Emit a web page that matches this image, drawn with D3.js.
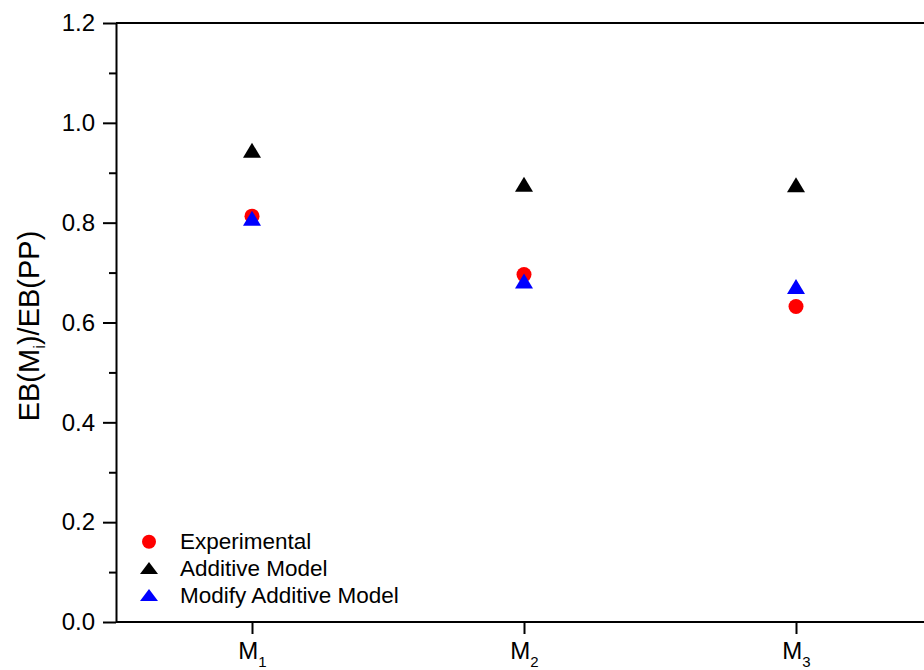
<!DOCTYPE html>
<html>
<head>
<meta charset="utf-8">
<script src="https://cdn.jsdelivr.net/npm/d3@7"></script>
<style>
  html, body { margin: 0; padding: 0; background: #fff; overflow: hidden; }
  svg { display: block; font-family: "Liberation Sans", Arial, sans-serif; }
</style>
</head>
<body>
<svg id="chart" width="924" height="670"></svg>
<script>
// ---- data ----
const categories = ["M1", "M2", "M3"];
const catBase = ["M", "M", "M"];
const catSub = ["1", "2", "3"];
const experimental = [0.813, 0.696, 0.632];
const additiveModel = [0.945, 0.877, 0.876];
const modifyAdditiveModel = [0.809, 0.683, 0.672];
const yTicks = [0.0, 0.2, 0.4, 0.6, 0.8, 1.0, 1.2];
const yMinorTicks = [0.1, 0.3, 0.5, 0.7, 0.9, 1.1];
const legendLabels = ["Experimental", "Additive Model", "Modify Additive Model"];

// ---- layout ----
const svg = d3.select("#chart");
const pLeft = 116, pTop = 23, pBottom = 622, pRight = 932;
const FONT = "'Liberation Sans', Arial, sans-serif";

const x = d3.scalePoint().domain(categories).range([pLeft, pRight]).padding(0.5);
const y = d3.scaleLinear().domain([0, 1.2]).range([pBottom, pTop]);

svg.append("rect").attr("width", 924).attr("height", 670).attr("fill", "#fff");

// frame top border (right border lies outside the view)
svg.append("line")
  .attr("x1", pLeft).attr("x2", 924).attr("y1", pTop).attr("y2", pTop)
  .attr("stroke", "#000").attr("stroke-width", 2);

// y axis
const yAxis = d3.axisLeft(y).tickValues(yTicks).tickFormat(d3.format(".1f"))
  .tickSize(13).tickPadding(8).tickSizeOuter(0);
const gy = svg.append("g").attr("transform", `translate(${pLeft},0)`).call(yAxis);
gy.select(".domain").attr("stroke-width", 2);
gy.selectAll(".tick line").attr("stroke-width", 2);
gy.selectAll(".tick text").attr("font-size", 24).attr("fill", "#000")
  .attr("font-family", FONT);
const yMinor = d3.axisLeft(y).tickValues(yMinorTicks).tickSize(7).tickFormat("").tickSizeOuter(0);
const gym = svg.append("g").attr("transform", `translate(${pLeft},0)`).call(yMinor);
gym.select(".domain").remove();
gym.selectAll(".tick line").attr("stroke-width", 2);

// x axis (domain drawn as a plain horizontal line)
const xAxis = d3.axisBottom(x).tickSize(12).tickSizeOuter(0).tickFormat("");
const gx = svg.append("g").attr("transform", `translate(0,${pBottom})`).call(xAxis);
gx.select(".domain").remove();
gx.append("line").attr("x1", pLeft).attr("x2", 924).attr("y1", 0).attr("y2", 0)
  .attr("stroke", "#000").attr("stroke-width", 2);
gx.selectAll(".tick line").attr("stroke-width", 2);
gx.selectAll(".tick").each(function(d, i) {
  const t = d3.select(this).append("text")
    .attr("y", 37).attr("text-anchor", "middle")
    .attr("font-size", 24).attr("fill", "#000")
    .attr("font-family", FONT);
  t.append("tspan").text(catBase[i]);
  t.append("tspan").attr("font-size", 15).attr("dy", 8).text(catSub[i]);
});

// y title
const yt = svg.append("text")
  .attr("transform", "translate(39,326) rotate(-90)")
  .attr("text-anchor", "middle").attr("font-size", 29).attr("fill", "#000")
  .attr("font-family", FONT);
yt.append("tspan").text("EB(M");
yt.append("tspan").attr("font-size", 17).attr("dy", 6).text("i");
yt.append("tspan").attr("dy", -6).text(")/EB(PP)");

// markers
function triPath(w, h) {
  return `M0,${-h / 2}L${w / 2},${h / 2}L${-w / 2},${h / 2}Z`;
}
const plot = svg.append("g");
plot.selectAll("circle.exp").data(categories).join("circle")
  .attr("class", "exp")
  .attr("cx", d => x(d)).attr("cy", (d, i) => y(experimental[i]))
  .attr("r", 7.5).attr("fill", "#ff0000");
plot.selectAll("path.add").data(categories).join("path")
  .attr("class", "add")
  .attr("d", triPath(18, 15))
  .attr("transform", (d, i) => `translate(${x(d)},${y(additiveModel[i])})`)
  .attr("fill", "#000");
plot.selectAll("path.mod").data(categories).join("path")
  .attr("class", "mod")
  .attr("d", triPath(18, 15))
  .attr("transform", (d, i) => `translate(${x(d)},${y(modifyAdditiveModel[i])})`)
  .attr("fill", "#0000ff");

// legend
const lg = svg.append("g");
const legY = [541.7, 568, 595];
lg.append("circle").attr("cx", 149).attr("cy", legY[0]).attr("r", 7).attr("fill", "#ff0000");
lg.append("path").attr("d", triPath(18, 12)).attr("transform", `translate(149,${legY[1]})`).attr("fill", "#000");
lg.append("path").attr("d", triPath(18, 12)).attr("transform", `translate(149,${legY[2]})`).attr("fill", "#0000ff");
legendLabels.forEach((lab, i) => {
  lg.append("text").attr("x", 180).attr("y", legY[i] + 7.5)
    .attr("font-size", 22.5).attr("fill", "#000").attr("font-family", FONT).text(lab);
});
</script>
</body>
</html>
